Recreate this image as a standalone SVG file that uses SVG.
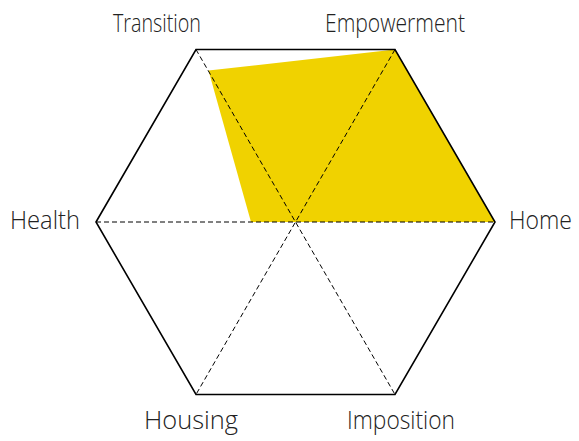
<svg xmlns="http://www.w3.org/2000/svg" width="579" height="441" viewBox="0 0 579 441">
<style>
.lbl{font-family:"Open Sans","Liberation Sans",sans-serif;font-weight:300;font-size:25px;fill:#222}
.edge{fill:none;stroke:#000;stroke-width:1.6;stroke-linejoin:miter}
.axis{stroke:#000;stroke-width:1;stroke-dasharray:5,3;fill:none}
</style>
<rect width="579" height="441" fill="#fff"/>
<g id="area"><polygon points="208.5,70.5 395,49.5 495,222 251,222" fill="#f0d200"/></g>
<g id="connectors">
<line class="axis" x1="96" y1="222" x2="495" y2="222"/>
<line class="axis" x1="196" y1="49.5" x2="395" y2="394.5"/>
<line class="axis" x1="395" y1="49.5" x2="196" y2="394.5"/>
<polygon class="edge" points="96,222 196,49.5 395,49.5 495,222 395,394.5 196,394.5"/>
</g>
<g id="node-transition"><text class="lbl" x="113" y="32" textLength="88" lengthAdjust="spacingAndGlyphs">Transition</text></g>
<g id="node-empowerment"><text class="lbl" x="325" y="32" textLength="140" lengthAdjust="spacingAndGlyphs">Empowerment</text></g>
<g id="node-health"><text class="lbl" x="10" y="229" textLength="70" lengthAdjust="spacingAndGlyphs">Health</text></g>
<g id="node-home"><text class="lbl" x="509" y="229" textLength="63" lengthAdjust="spacingAndGlyphs">Home</text></g>
<g id="node-housing"><text class="lbl" x="144" y="429" textLength="94" lengthAdjust="spacingAndGlyphs">Housing</text></g>
<g id="node-imposition"><text class="lbl" x="347" y="429" textLength="108" lengthAdjust="spacingAndGlyphs">Imposition</text></g>
</svg>
